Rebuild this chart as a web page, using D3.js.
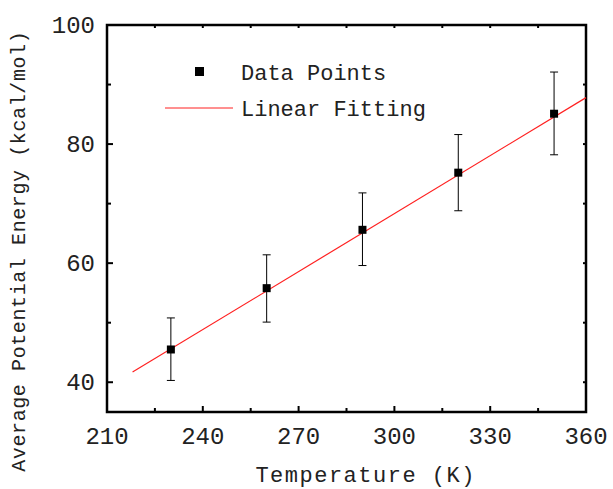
<html>
<head>
<meta charset="utf-8">
<script src="https://cdn.jsdelivr.net/npm/d3@7"></script>
<style>
  body { margin: 0; background: #fff; }
  text { font-family: "Liberation Mono", "Courier New", monospace; fill: #222; }
</style>
</head>
<body>
<div id="chart"></div>
<script>
// Data
var temps = [230, 260, 290, 320, 350];
var energy = [45.5, 55.8, 65.6, 75.2, 85.1];
var errLow = [40.3, 50.1, 59.6, 68.8, 78.2];
var errHigh = [50.8, 61.4, 71.8, 81.6, 92.1];
// Linear fit end points
var fitX = [218, 360];
var fitY = [41.7, 87.8];
var xTicks = [210, 240, 270, 300, 330, 360];
var yTicks = [40, 60, 80, 100];

var W = 613, H = 489;
var margin = {top: 25, right: 27, bottom: 77, left: 107},
    width = W - margin.left - margin.right,
    height = H - margin.top - margin.bottom;

var svg = d3.select("#chart").append("svg")
    .attr("width", W).attr("height", H)
  .append("g")
    .attr("transform", "translate(" + margin.left + "," + margin.top + ")");

var x = d3.scaleLinear().domain([210, 360]).range([0, width]);
var y = d3.scaleLinear().domain([35, 100]).range([height, 0]);

// ticks, pointing inward, majors and minors
var xMinor = d3.range(225, 360, 30);
var yMinor = [50, 70, 90];

function ticks(g, vals, len, side) {
  g.selectAll(null).data(vals).enter().append("line")
    .attr("stroke", "#000").attr("stroke-width", 2)
    .attr("x1", function(d) { return side == "b" || side == "t" ? x(d) : (side == "l" ? 0 : width); })
    .attr("x2", function(d) { return side == "b" || side == "t" ? x(d) : (side == "l" ? len : width - len); })
    .attr("y1", function(d) { return side == "l" || side == "r" ? y(d) : (side == "b" ? height : 0); })
    .attr("y2", function(d) { return side == "l" || side == "r" ? y(d) : (side == "b" ? height - len : len); });
}
var tg = svg.append("g");
ticks(tg, xTicks, 6, "b"); ticks(tg, xMinor, 4, "b");
ticks(tg, xTicks, 3, "t"); ticks(tg, xMinor, 3, "t");
ticks(tg, yTicks, 6, "l"); ticks(tg, yMinor, 4, "l");
ticks(tg, yTicks, 3, "r"); ticks(tg, yMinor, 3, "r");

// frame
svg.append("rect")
  .attr("width", width).attr("height", height)
  .attr("fill", "none").attr("stroke", "#000").attr("stroke-width", 2.5);

// tick labels
svg.selectAll(".xl").data(xTicks).enter().append("text")
  .attr("x", function(d) { return x(d); })
  .attr("y", height + 32)
  .attr("text-anchor", "middle")
  .style("font-size", "24px")
  .text(function(d) { return d; });

svg.selectAll(".yl").data(yTicks).enter().append("text")
  .attr("x", -12)
  .attr("y", function(d) { return y(d) + 8; })
  .attr("text-anchor", "end")
  .style("font-size", "24px")
  .text(function(d) { return d; });

// axis titles
svg.append("text")
  .attr("x", x(291)).attr("y", height + 70)
  .attr("text-anchor", "middle")
  .style("font-size", "22px")
  .style("letter-spacing", "1.5px")
  .text("Temperature (K)");

svg.append("text")
  .attr("transform", "translate(" + (-82) + "," + y(62) + ") rotate(-90)")
  .attr("text-anchor", "middle")
  .style("font-size", "20px")
  .style("letter-spacing", "0.6px")
  .text("Average Potential Energy (kcal/mol)");

// fit line
svg.append("line")
  .attr("x1", x(fitX[0])).attr("y1", y(fitY[0]))
  .attr("x2", x(fitX[1])).attr("y2", y(fitY[1]))
  .attr("stroke", "#ff2020").attr("stroke-width", 1.2);

// error bars
var eb = svg.selectAll(".eb").data(temps).enter().append("g");
eb.append("line")
  .attr("x1", function(d) { return x(d); }).attr("x2", function(d) { return x(d); })
  .attr("y1", function(d, i) { return y(errLow[i]); })
  .attr("y2", function(d, i) { return y(errHigh[i]); })
  .attr("stroke", "#000").attr("stroke-width", 1);
eb.append("line")
  .attr("x1", function(d) { return x(d) - 4; }).attr("x2", function(d) { return x(d) + 4; })
  .attr("y1", function(d, i) { return y(errLow[i]); })
  .attr("y2", function(d, i) { return y(errLow[i]); })
  .attr("stroke", "#000").attr("stroke-width", 1);
eb.append("line")
  .attr("x1", function(d) { return x(d) - 4; }).attr("x2", function(d) { return x(d) + 4; })
  .attr("y1", function(d, i) { return y(errHigh[i]); })
  .attr("y2", function(d, i) { return y(errHigh[i]); })
  .attr("stroke", "#000").attr("stroke-width", 1);

// points
svg.selectAll(".pt").data(temps).enter().append("rect")
  .attr("x", function(d) { return x(d) - 4; })
  .attr("y", function(d, i) { return y(energy[i]) - 4; })
  .attr("width", 8).attr("height", 8)
  .attr("fill", "#000");

// legend
var lg = svg.append("g");
lg.append("rect")
  .attr("x", 88).attr("y", 42).attr("width", 9).attr("height", 9)
  .attr("fill", "#000");
lg.append("text")
  .attr("x", 134).attr("y", 55)
  .style("font-size", "22px")
  .text("Data Points");
lg.append("line")
  .attr("x1", 58).attr("x2", 126).attr("y1", 83).attr("y2", 83)
  .attr("stroke", "#ff2020").attr("stroke-width", 1);
lg.append("text")
  .attr("x", 134).attr("y", 91)
  .style("font-size", "22px")
  .text("Linear Fitting");
</script>
</body>
</html>
